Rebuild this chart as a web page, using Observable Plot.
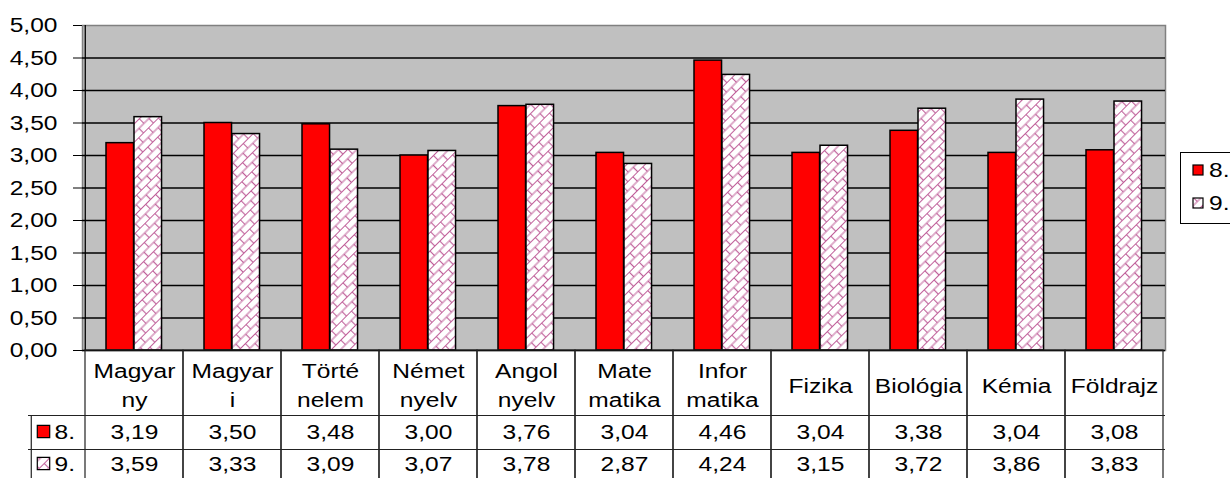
<!DOCTYPE html>
<html>
<head>
<meta charset="utf-8">
<script src="https://cdn.jsdelivr.net/npm/d3@7"></script>
<script src="https://cdn.jsdelivr.net/npm/@observablehq/plot@0.6"></script>
<style>
  html, body { margin: 0; padding: 0; background: #fff; }
  #wrap { position: relative; width: 1230px; height: 478px; overflow: hidden; font-family: "Liberation Sans", Arial, sans-serif; }
  #legend { position: absolute; left: 1180px; top: 152px; width: 70px; height: 72px; border: 1px solid #000; background: #fff; box-sizing: border-box; font-size: 21px; }
  #legend .row { position: absolute; left: 0; display: flex; align-items: center; }
  #legend .row span { display: inline-block; transform: scaleX(1.17); transform-origin: left center; }
</style>
</head>
<body>
<div id="wrap"></div>
<script>
const categories = ["Magyar\nny", "Magyar\ni", "Törté\nnelem", "Német\nnyelv", "Angol\nnyelv", "Mate\nmatika", "Infor\nmatika", "Fizika", "Biológia", "Kémia", "Földrajz"];
const series = ["8.", "9."];
const values8 = [3.19, 3.50, 3.48, 3.00, 3.76, 3.04, 4.46, 3.04, 3.38, 3.04, 3.08];
const values9 = [3.59, 3.33, 3.09, 3.07, 3.78, 2.87, 4.24, 3.15, 3.72, 3.86, 3.83];
const yTicks = [0, 0.5, 1, 1.5, 2, 2.5, 3, 3.5, 4, 4.5, 5];

const rows8 = categories.map((c, i) => ({cat: c, v: values8[i]}));
const rows9 = categories.map((c, i) => ({cat: c, v: values9[i]}));
const fmt = v => v.toFixed(2).replace(".", ",");
const red = "#ff0000";
const hatch = "url(#hatch9)";
const font = "Liberation Sans, Arial, sans-serif";

const W = 1230, H = 478, mL = 82, mR = 65, mT = 25, mB = 128;
const bw = (W - mL - mR) / categories.length;

const chart = Plot.plot({
  width: W, height: H,
  marginLeft: mL, marginRight: mR, marginTop: mT, marginBottom: mB,
  style: {fontFamily: font, fontSize: "21px", background: "transparent", overflow: "visible"},
  x: {domain: categories, padding: 0, axis: null},
  y: {domain: [0, 5], axis: null},
  marks: [
    Plot.frame({fill: "#c0c0c0", stroke: "#808080", strokeWidth: 1.5}),
    Plot.ruleY(yTicks.filter(t => t > 0 && t < 5), {stroke: "#000", strokeWidth: 1.3}),
    // y axis
    Plot.axisY({ticks: yTicks, tickFormat: fmt, tickSize: 9, tickPadding: 16, fontSize: 21, stroke: "#000", color: "#000", label: null}),
    Plot.ruleX([0], {x: () => categories[0], dx: -bw / 2, y1: 0, y2: 5, stroke: "#000", strokeWidth: 1.3}),
    // bars
    Plot.barY(rows8, {x: "cat", y: "v", fill: red, stroke: "#000", strokeWidth: 1.5, insetLeft: 21, insetRight: bw - 49}),
    Plot.barY(rows9, {x: "cat", y: "v", fill: hatch, stroke: "#000", strokeWidth: 1.5, insetLeft: 49, insetRight: bw - 77}),
    // baseline
    Plot.ruleY([0], {stroke: "#000", strokeWidth: 1.3}),
    // data table grid
    Plot.barY(categories, {x: d => d, y: 0, fill: "none", stroke: "#222", strokeWidth: 1.2, insetBottom: -(mB + 2)}),
    Plot.ruleY([0], {dy: 65, stroke: "#222", strokeWidth: 1.2, insetLeft: -54}),
    Plot.ruleY([0], {dy: 99, stroke: "#222", strokeWidth: 1.2, insetLeft: -54}),
    Plot.ruleX([0], {x: () => categories[0], dx: -bw / 2 - 54, y1: 0, y2: 0, insetTop: 65, insetBottom: -130, stroke: "#222", strokeWidth: 1.2}),
    // header labels
    Plot.text(categories, {x: d => d, text: d => d, frameAnchor: "bottom", dy: 33, lineAnchor: "middle", lineHeight: 1.38, fontSize: 21, fill: "#000"}),
    // values
    Plot.text(rows8, {x: "cat", text: d => fmt(d.v), frameAnchor: "bottom", dy: 82, lineAnchor: "middle", fontSize: 21, fill: "#000"}),
    Plot.text(rows9, {x: "cat", text: d => fmt(d.v), frameAnchor: "bottom", dy: 114, lineAnchor: "middle", fontSize: 21, fill: "#000"}),
    // row headers
    Plot.dot([series[0]], {frameAnchor: "bottom-left", dx: -39, dy: 81, symbol: "square", r: 7, fill: red, stroke: "#000", strokeWidth: 1.2}),
    Plot.dot([series[1]], {frameAnchor: "bottom-left", dx: -39, dy: 113, symbol: "square", r: 7, fill: hatch, stroke: "#000", strokeWidth: 1.2}),
    Plot.text([series[0]], {text: d => d, frameAnchor: "bottom-left", dx: -28, dy: 82, textAnchor: "start", lineAnchor: "middle", fontSize: 21, fill: "#000"}),
    Plot.text([series[1]], {text: d => d, frameAnchor: "bottom-left", dx: -28, dy: 114, textAnchor: "start", lineAnchor: "middle", fontSize: 21, fill: "#000"})
  ]
});

// hatch pattern definition
const svgNS = "http://www.w3.org/2000/svg";
const defs = document.createElementNS(svgNS, "defs");
defs.innerHTML = `<pattern id="hatch9" patternUnits="userSpaceOnUse" width="14" height="13" patternTransform="rotate(-45)">
    <rect width="14" height="13" fill="#fff"/>
    <path d="M0,0.5H14M0,7H14M0.5,0.5V7M7.5,7V13.5" stroke="#c0609a" stroke-width="1.2" fill="none"/>
  </pattern>`;
chart.insertBefore(defs, chart.firstChild);

// horizontal stretch of text about its anchor point, to match the reference's wide rendering
const SX = 1.17;
chart.querySelectorAll("text").forEach(t => {
  const x = parseFloat(t.getAttribute("x")) || 0;
  const prev = t.getAttribute("transform") || "";
  t.setAttribute("transform", `${prev} translate(${x},0) scale(${SX},1) translate(${-x},0)`.trim());
});

const wrap = document.getElementById("wrap");
wrap.appendChild(chart);

// legend
const legend = document.createElement("div");
legend.id = "legend";
series.forEach((s, i) => {
  const row = document.createElement("div");
  row.className = "row";
  row.style.top = (i === 0 ? 5 : 38) + "px";
  const sw = document.createElementNS(svgNS, "svg");
  sw.setAttribute("width", 12); sw.setAttribute("height", 12);
  sw.style.marginLeft = "11px"; sw.style.marginRight = "5px";
  sw.innerHTML = `<rect x="1" y="1" width="10" height="10" fill="${i === 0 ? red : hatch}" stroke="#000" stroke-width="1.2"/>`;
  row.appendChild(sw);
  const t = document.createElement("span");
  t.textContent = s;
  row.appendChild(t);
  legend.appendChild(row);
});
wrap.appendChild(legend);
</script>
</body>
</html>
